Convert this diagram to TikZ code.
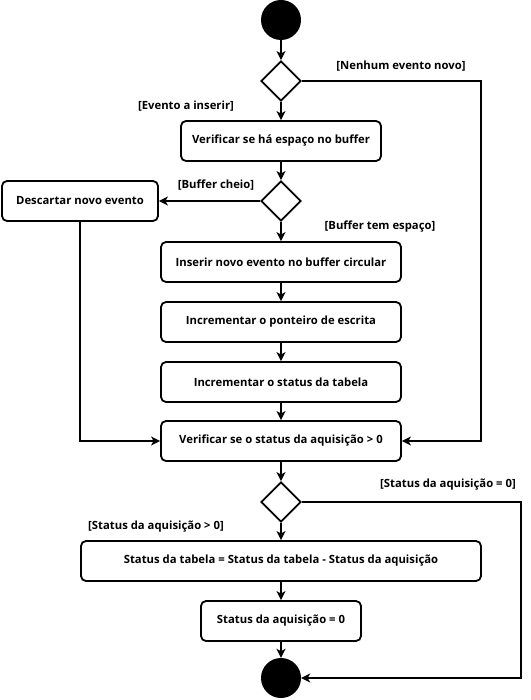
\documentclass[tikz,border=0pt]{standalone}
\usepackage{fontspec}
\setmainfont{Open Sans}
\usetikzlibrary{arrows.meta,shapes.geometric}
\begin{document}
\begin{tikzpicture}[x=1pt,y=-1pt,
  every node/.style={font=\fontsize{11.3}{13}\selectfont\bfseries},
  act/.style={draw,line width=1.8pt,rounded corners=5pt,minimum height=40pt,inner sep=0pt},
  dec/.style={draw,line width=1.8pt,diamond,minimum width=40pt,minimum height=40pt,inner sep=0pt},
  dot/.style={circle,fill=black,minimum size=40pt,inner sep=0pt},
  lbl/.style={inner sep=0pt},
  conn/.style={line width=1.8pt,-{Stealth[length=9pt,width=9pt,inset=2.5pt]}}]
\useasboundingbox (0,0) rectangle (530,700);
\node[dot] (start) at (281,20) {};
\node[dec] (d1) at (281,81) {};
\node[act,minimum width=200pt] (chk) at (281,141) {Verificar se há espaço no buffer};
\node[dec] (d2) at (281,201) {};
\node[act,minimum width=156pt] (disc) at (80,201) {Descartar novo evento};
\node[act,minimum width=240pt] (ins) at (281,262) {Inserir novo evento no buffer circular};
\node[act,minimum width=240pt] (ptr) at (281,322) {Incrementar o ponteiro de escrita};
\node[act,minimum width=240pt] (tab) at (281,382) {Incrementar o status da tabela};
\node[act,minimum width=240pt] (vst) at (281,441) {Verificar se o status da aquisição > 0};
\node[dec] (d3) at (281,502) {};
\node[act,minimum width=400pt] (sub) at (281,561) {Status da tabela = Status da tabela - Status da aquisição};
\node[act,minimum width=160pt] (zero) at (281,621) {Status da aquisição = 0};
\node[dot] (end) at (281,678) {};
\coordinate (r1) at (481,81);
\coordinate (r1b) at (481,441);
\coordinate (l1) at (80,441);
\coordinate (r3) at (521,502);
\coordinate (r3b) at (521,678);
\node[lbl] (lnen) at (401,66) {[Nenhum evento novo]};
\node[lbl] (lev) at (186,106) {[Evento a inserir]};
\node[lbl] (lbc) at (216,185) {[Buffer cheio]};
\node[lbl] (lbt) at (380,227) {[Buffer tem espaço]};
\node[lbl] (ls0) at (448,485) {[Status da aquisição = 0]};
\node[lbl] (ls1) at (156,527) {[Status da aquisição > 0]};
\draw[conn] (start) -- (d1);
\draw[conn] (d1) -- (chk);
\draw[conn] (d1.east) -- (r1) -- (r1b) -- (vst.east);
\draw[conn] (chk) -- (d2);
\draw[conn] (d2.west) -- (disc.east);
\draw[conn] (d2) -- (ins);
\draw[conn] (ins) -- (ptr);
\draw[conn] (ptr) -- (tab);
\draw[conn] (tab) -- (vst);
\draw[conn] (disc.south) -- (l1) -- (vst.west);
\draw[conn] (vst) -- (d3);
\draw[conn] (d3) -- (sub);
\draw[conn] (d3.east) -- (r3) -- (r3b) -- (end.east);
\draw[conn] (sub) -- (zero);
\draw[conn] (zero) -- (end);
\end{tikzpicture}
\end{document}
